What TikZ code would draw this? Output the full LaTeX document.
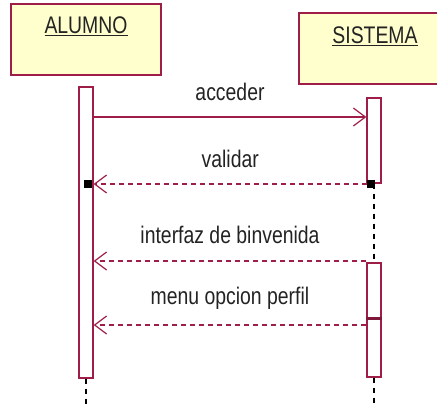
\documentclass[tikz,border=0pt]{standalone}
\usepackage{fontspec}
\setmainfont{Liberation Sans}
\usetikzlibrary{arrows.meta}
\definecolor{lineacol}{RGB}{158,30,72}
\definecolor{cajacol}{RGB}{255,255,206}
\definecolor{textocol}{RGB}{35,35,35}
\newcommand{\alto}[1]{\scalebox{0.97}[1.2]{#1}}
\tikzset{
  objeto/.style={draw=lineacol,line width=1.6pt,fill=cajacol,minimum width=150pt,minimum height=71pt,inner sep=0pt},
  nombre/.style={text=textocol,font=\fontsize{20}{23}\selectfont,inner sep=0pt},
  barra/.style={draw=lineacol,line width=1.3pt,fill=white,minimum width=14pt,inner sep=0pt},
  vida/.style={black,line width=1.5pt,dash pattern=on 5pt off 5pt},
  msg/.style={lineacol,line width=1.2pt,-{Straight Barb[length=12pt,width=18pt,line width=1.2pt]}},
  resp/.style={msg,dash pattern=on 5pt off 4pt},
  marca/.style={fill=black,minimum size=8pt,inner sep=0pt}
}
\begin{document}
\begin{tikzpicture}[x=1pt,y=-1pt]
    \useasboundingbox (0,0) rectangle (437,407);
    % objetos
    \node[objeto] (alumno) at (86,39.5) {};
    \node[nombre] (alumnoT) at (86,26) {\alto{\underline{ALUMNO}}};
    \node[objeto] (sistema) at (374,48.5) {};
    \node[nombre] (sistemaT) at (375,36) {\alto{\underline{SISTEMA}}};
    % niveles de los mensajes
    \coordinate (yAcc) at (0,117);
    \coordinate (yVal) at (0,184);
    \coordinate (yInt) at (0,261);
    \coordinate (yMen) at (0,325);
    \coordinate (yMarca) at (0,318);
    \coordinate (yFin) at (0,407);
    % lineas de vida
    \node[barra,minimum height=291pt] (barA) at (86,232.5) {};
    \node[barra,minimum height=85pt] (barS1) at (374,140.5) {};
    \node[barra,minimum height=114pt] (barS2) at (374,320) {};
    \draw[vida] (barA.south) -- (barA.center |- yFin);
    \draw[vida] (barS1.south) -- (barS2.north);
    \draw[vida] (barS2.south) -- (barS2.center |- yFin);
    \draw[lineacol!80!black,line width=3pt] (barS2.west |- yMarca) -- (barS2.east |- yMarca); % marca
    % mensajes
    \draw[msg] (barA.east |- yAcc) -- (barS1.west |- yAcc)
        node[nombre,midway,yshift=25pt] (acceder) {\alto{acceder}};
    \node[marca] (mA) at ([xshift=2pt]barA.center |- yVal) {};
    \node[marca] (mS) at ([xshift=-3pt]barS1.center |- yVal) {};
    \draw[resp] (mS.west) -- (barA.east |- yVal)
        node[nombre,midway,yshift=25pt] (validar) {\alto{validar}};
    \draw[resp] (barS2.west |- yInt) -- (barA.east |- yInt)
        node[nombre,midway,yshift=26pt] (interfaz) {\alto{interfaz de binvenida}};
    \draw[resp] (barS2.west |- yMen) -- (barA.east |- yMen)
        node[nombre,midway,yshift=27pt] (menu) {\alto{menu opcion perfil}};
\end{tikzpicture}
\end{document}
